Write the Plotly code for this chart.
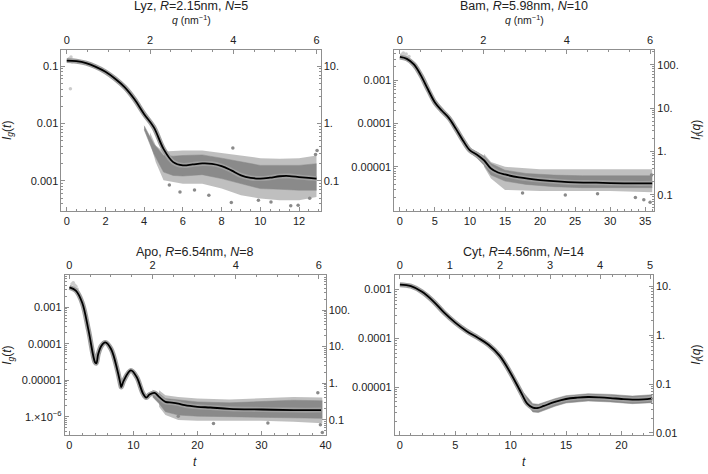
import plotly.graph_objects as go

W, H = 708, 474

# ---------------- DATA ----------------
# Lyz
lyz_t = [0, 0.5, 1, 1.5, 2, 2.5, 3, 3.5, 4, 4.5, 5, 5.5, 6, 6.5, 7, 7.5, 8, 8.5, 9, 9.5, 10, 10.5, 11, 11.5, 12, 12.5, 12.9]
lyz_fit = [0.1253, 0.1220, 0.1127, 0.0974, 0.0798, 0.0604, 0.0428, 0.0265, 0.0146, 0.00859, 0.00362, 0.00213,
           0.00187, 0.00194, 0.00202, 0.00199, 0.00182, 0.00153, 0.00125, 0.00113, 0.00110, 0.00114, 0.00121,
           0.00122, 0.00117, 0.00113, 0.00110]
lyz_in_t = [4.0, 4.5, 5.0, 5.5, 6, 7, 8, 9, 10, 11, 12, 12.9]
lyz_in_hi = [9.18e-3, 4.42e-3, 2.78e-3, 2.71e-3, 2.78e-3, 2.85e-3, 2.50e-3, 2.13e-3, 1.87e-3, 1.87e-3, 1.87e-3, 2.00e-3]
lyz_in_lo = [7.82e-3, 2.97e-3, 1.43e-3, 1.25e-3, 1.22e-3, 1.29e-3, 1.10e-3, 9.00e-4, 7.37e-4, 7.18e-4, 6.90e-4, 6.90e-4]
lyz_out_t = [4.3, 4.6, 5, 6, 7, 8, 9, 10, 11, 12, 12.9]
lyz_out_hi = [7.03e-3, 4.14e-3, 3.26e-3, 3.39e-3, 3.39e-3, 3.09e-3, 2.78e-3, 2.50e-3, 2.43e-3, 2.50e-3, 2.78e-3]
lyz_out_lo = [4.72e-3, 2.13e-3, 1.03e-3, 9.00e-4, 9.00e-4, 7.37e-4, 5.65e-4, 4.95e-4, 4.63e-4, 4.63e-4, 5.29e-4]
lyz_pts_t = [8.58, 12.93, 12.85, 5.85, 8.5, 10.55, 11.57, 11.95, 12.55, 7.34, 9.9, 6.6, 5.3]
lyz_pts_v = [3.77e-3, 3.39e-3, 2.9e-3, 6.45e-4, 4.22e-4, 4.3e-4, 3.70e-4, 3.8e-4, 5.0e-4, 5.65e-4, 4.6e-4, 7.0e-4, 8.5e-4]
lyz_light_t = [0.12, 0.19, 0.22, 0.28, 0.19]
lyz_light_v = [0.135, 0.125, 0.145, 0.118, 0.0406]

# Bam
bam_t = [0, 1, 2, 3, 4, 5, 6, 7, 8, 9, 10, 11, 12, 13, 14, 15, 17, 20, 23, 25, 28, 30, 33, 36]
bam_fit = [3.40e-3, 3.07e-3, 2.28e-3, 1.28e-3, 6.12e-4, 3.04e-4, 1.96e-4, 1.33e-4, 7.50e-5, 4.06e-5, 2.40e-5,
           1.91e-5, 1.42e-5, 9.16e-6, 7.43e-6, 6.68e-6, 5.71e-6, 4.97e-6, 4.55e-6, 4.39e-6, 4.32e-6, 4.24e-6,
           4.17e-6, 4.17e-6]
bam_in_t = [10, 11, 12, 13, 15, 18, 22, 26, 30, 36]
bam_in_hi = [2.71e-5, 2.20e-5, 1.78e-5, 1.19e-5, 8.39e-6, 7.05e-6, 6.46e-6, 6.24e-6, 6.24e-6, 6.24e-6]
bam_in_lo = [2.12e-5, 1.60e-5, 1.09e-5, 6.46e-6, 4.71e-6, 3.95e-6, 3.50e-6, 3.32e-6, 3.32e-6, 3.32e-6]
bam_out_t = [12, 13, 15, 20, 25, 30, 36]
bam_out_hi = [2.01e-5, 1.30e-5, 1.00e-5, 8.85e-6, 8.85e-6, 8.85e-6, 8.85e-6]
bam_out_lo = [1.00e-5, 5.42e-6, 2.94e-6, 2.79e-6, 2.79e-6, 2.79e-6, 2.60e-6]
bam_pts_t = [23.6, 34.8, 35.7, 33.6, 17.5, 28.2, 35.9]
bam_pts_v = [2.26e-6, 1.74e-6, 1.54e-6, 1.96e-6, 2.5e-6, 2.4e-6, 6.5e-6]
bam_light_t = [0.3, 0.5, 0.7, 0.9, 1.1, 1.3]
bam_light_v = [3.9e-3, 4.2e-3, 3.6e-3, 4.0e-3, 3.3e-3, 3.5e-3]

# Apo
apo_t = [0, 1, 2, 3, 4, 4.2, 4.5, 5, 5.6, 6.5, 7.5, 8, 8.1, 8.5, 9.6, 10.5, 11.5, 12, 12.5, 13.3, 14, 15, 16, 17,
         18, 20, 22, 25, 30, 35, 39.3]
apo_fit = [3.48e-3, 2.83e-3, 1.31e-3, 2.24e-4, 3.10e-5, 2.91e-5, 5.21e-5, 8.77e-5, 1.08e-4, 7.13e-5, 1.85e-5,
           7.5e-6, 6.52e-6, 9.89e-6, 1.85e-5, 1.22e-5, 4.30e-6, 3.35e-6, 4.04e-6, 4.48e-6, 3.49e-6, 2.55e-6,
           2.45e-6, 2.30e-6, 2.07e-6, 1.87e-6, 1.79e-6, 1.65e-6, 1.58e-6, 1.52e-6, 1.52e-6]
apo_in_t = [13, 14, 15, 17, 20, 25, 30, 35, 39.5]
apo_in_hi = [5.29e-6, 4.30e-6, 3.15e-6, 2.84e-6, 2.55e-6, 2.40e-6, 2.55e-6, 2.84e-6, 2.72e-6]
apo_in_lo = [3.49e-6, 2.30e-6, 1.37e-6, 1.11e-6, 1.04e-6, 1.00e-6, 1.00e-6, 9.62e-7, 9.03e-7]
apo_out_t = [14, 15, 17, 20, 25, 30, 35, 39.5]
apo_out_hi = [5.29e-6, 3.87e-6, 3.49e-6, 3.15e-6, 2.96e-6, 3.21e-6, 3.49e-6, 3.35e-6]
apo_out_lo = [1.87e-6, 1.11e-6, 8.14e-7, 7.81e-7, 7.81e-7, 7.81e-7, 7.33e-7, 6.61e-7]
apo_pts_t = [17.0, 39.5, 39.2, 38.8, 22.5, 31.0]
apo_pts_v = [1.04e-6, 3.69e-7, 6.0e-7, 4.5e-6, 6.5e-7, 6.8e-7]
apo_light_t = [0.4, 0.6, 0.8, 1.0, 1.2]
apo_light_v = [4.3e-3, 4.6e-3, 4.0e-3, 3.7e-3, 3.1e-3]

# Cyt
cyt_t = [0, 1, 2, 3, 4, 5, 6, 7, 8, 9, 10, 11, 11.5, 12, 12.5, 13, 14, 15, 16, 17, 18, 19, 20, 21, 22, 22.8]
cyt_fit = [1.26e-3, 1.17e-3, 8.97e-4, 5.80e-4, 3.35e-4, 2.10e-4, 1.42e-4, 1.04e-4, 7.38e-5, 4.41e-5, 1.93e-5,
           7.31e-6, 4.58e-6, 3.80e-6, 3.74e-6, 4.11e-6, 4.96e-6, 5.70e-6, 6.07e-6, 6.26e-6, 6.17e-6, 5.97e-6,
           5.70e-6, 5.52e-6, 5.61e-6, 5.88e-6]
cyt_in_t = [9, 10, 11, 12, 12.5, 13, 14, 15, 17, 19, 21, 22.8]
cyt_in_hi = [4.92e-5, 2.18e-5, 8.55e-6, 4.58e-6, 4.44e-6, 4.88e-6, 5.79e-6, 6.67e-6, 7.31e-6, 7.09e-6, 6.56e-6, 6.98e-6]
cyt_in_lo = [3.95e-5, 1.65e-5, 6.07e-6, 3.10e-6, 3.01e-6, 3.35e-6, 4.05e-6, 4.73e-6, 5.19e-6, 4.96e-6, 4.58e-6, 4.80e-6]

# Titles / tick labels
titles = ["Lyz, <i>R</i>=2.15nm, <i>N</i>=5", "Bam, <i>R</i>=5.98nm, <i>N</i>=10",
          "Apo, <i>R</i>=6.54nm, <i>N</i>=8", "Cyt, <i>R</i>=4.56nm, <i>N</i>=14"]
t_ticks = [[0, 2, 4, 6, 8, 10, 12], [0, 5, 10, 15, 20, 25, 30, 35], [0, 10, 20, 30, 40], [0, 5, 10, 15, 20]]
q_ticks = [[0, 2, 4, 6], [0, 2, 4, 6], [0, 2, 4, 6], [0, 1, 2, 3, 4, 5]]
left_vals = [[0.1, 0.01, 0.001], [1e-3, 1e-4, 1e-5], [1e-3, 1e-4, 1e-5, 1e-6], [1e-3, 1e-4, 1e-5]]
left_text = [["0.1", "0.01", "0.001"], ["0.001", "0.0001", "0.00001"],
             ["0.001", "0.0001", "0.00001", "1.×10<sup>−6</sup>"], ["0.001", "0.0001", "0.00001"]]
right_vals = [[10, 1, 0.1], [100, 10, 1, 0.1], [100, 10, 1, 0.1], [10, 1, 0.1, 0.01]]
right_text = [["10.", "1.", "0.1"], ["100.", "10.", "1.", "0.1"], ["100.", "10.", "1.", "0.1"],
              ["10.", "1.", "0.1", "0.01"]]

# ---------------- LAYOUT GEOMETRY (pixels) ----------------
frames = [(62, 323.3, 50, 212.3), (397.7, 659.7, 50, 212.3), (65.3, 328.3, 277, 438.7), (398.3, 658.3, 277, 438.7)]
t_ranges = [(-0.271, 13.11), (-0.79, 36.27), (-0.73, 40.0), (-0.448, 22.83)]
q_ranges = [(-0.126, 6.095), (-0.133, 6.095), (-0.112, 6.159), (-0.099, 5.052)]
yl_ranges = [(-3.514, -0.711), (-6.005, -2.299), (-6.499, -2.113), (-5.982, -2.695)]
yr_ranges = [(-1.514, 1.289), (-1.359, 2.347), (-1.419, 2.967), (-2.042, 1.245)]
t_minor = [0.5, 1, 2, 1]
q_minor = [0.5, 0.5, 0.5, 0.25]

FRAME = "#8f8f8f"
TXT = "#222222"
FONT = "Liberation Sans"
BAND = "#8a8a8a"

fig = go.Figure()

panels = [
    dict(t=lyz_t, f=lyz_fit, it=lyz_in_t, ih=lyz_in_hi, il=lyz_in_lo, ot=lyz_out_t, oh=lyz_out_hi, ol=lyz_out_lo,
         pt=lyz_pts_t, pv=lyz_pts_v, lt=lyz_light_t, lv=lyz_light_v),
    dict(t=bam_t, f=bam_fit, it=bam_in_t, ih=bam_in_hi, il=bam_in_lo, ot=bam_out_t, oh=bam_out_hi, ol=bam_out_lo,
         pt=bam_pts_t, pv=bam_pts_v, lt=bam_light_t, lv=bam_light_v),
    dict(t=apo_t, f=apo_fit, it=apo_in_t, ih=apo_in_hi, il=apo_in_lo, ot=apo_out_t, oh=apo_out_hi, ol=apo_out_lo,
         pt=apo_pts_t, pv=apo_pts_v, lt=apo_light_t, lv=apo_light_v),
    dict(t=cyt_t, f=cyt_fit, it=cyt_in_t, ih=cyt_in_hi, il=cyt_in_lo, ot=None, oh=None, ol=None,
         pt=[], pv=[], lt=[], lv=[]),
]

tickfont = dict(family=FONT, size=11, color=TXT)
layout = {}
annotations = []

for k, p in enumerate(panels):
    xb, xt = 2 * k + 1, 2 * k + 2
    xa = "x" if xb == 1 else f"x{xb}"
    ya = "y" if xb == 1 else f"y{xb}"
    xa2, ya2 = f"x{xt}", f"y{xt}"
    common = dict(xaxis=xa, yaxis=ya, showlegend=False, hoverinfo="skip")

    if p["ot"] is not None:
        fig.add_trace(go.Scatter(x=p["ot"], y=p["ol"], mode="lines", line=dict(width=0, color=BAND), **common))
        fig.add_trace(go.Scatter(x=p["ot"], y=p["oh"], mode="lines", line=dict(width=0, color=BAND),
                                 fill="tonexty", fillcolor="rgba(138,138,138,0.55)", **common))
    fig.add_trace(go.Scatter(x=p["it"], y=p["il"], mode="lines", line=dict(width=0.5, color=BAND), **common))
    fig.add_trace(go.Scatter(x=p["it"], y=p["ih"], mode="lines", line=dict(width=0.5, color=BAND),
                             fill="tonexty", fillcolor=BAND, **common))
    if p["pt"]:
        fig.add_trace(go.Scatter(x=p["pt"], y=p["pv"], mode="markers",
                                 marker=dict(size=3.5, color=BAND), **common))
    if p["lt"]:
        fig.add_trace(go.Scatter(x=p["lt"], y=p["lv"], mode="markers",
                                 marker=dict(size=3.5, color="#cccccc"), **common))
    fig.add_trace(go.Scatter(x=p["t"], y=p["f"], mode="lines", line=dict(width=5, color="#a0a0a0", shape="spline"),
                             **common))
    fig.add_trace(go.Scatter(x=p["t"], y=p["f"], mode="lines", line=dict(width=1.8, color="black", shape="spline"),
                             **common))
    fig.add_trace(go.Scatter(x=[None], y=[None], xaxis=xa2, yaxis=ya2, showlegend=False, hoverinfo="skip"))

    l, r, tp, bt = frames[k]
    xdom = [l / W, r / W]
    ydom = [1 - bt / H, 1 - tp / H]
    axcommon = dict(showline=True, linecolor=FRAME, linewidth=1, ticks="inside", ticklen=4, tickcolor=FRAME,
                    showgrid=False, zeroline=False, tickfont=tickfont, mirror=False)
    layout["xaxis" if xb == 1 else f"xaxis{xb}"] = dict(
        domain=xdom, anchor=ya, range=list(t_ranges[k]), tickvals=t_ticks[k],
        ticktext=[str(v) for v in t_ticks[k]],
        minor=dict(ticks="inside", ticklen=2, tickcolor=FRAME, dtick=t_minor[k]), **axcommon)
    layout[f"xaxis{xt}"] = dict(
        overlaying=xa, side="top", anchor=ya, range=list(q_ranges[k]), tickvals=q_ticks[k],
        ticktext=[str(v) for v in q_ticks[k]],
        minor=dict(ticks="inside", ticklen=2, tickcolor=FRAME, dtick=q_minor[k]), **axcommon)
    layout["yaxis" if xb == 1 else f"yaxis{xb}"] = dict(
        domain=ydom, anchor=xa, type="log", range=list(yl_ranges[k]), tickvals=left_vals[k],
        ticktext=left_text[k], minor=dict(ticks="inside", ticklen=2, tickcolor=FRAME, dtick="D1"), **axcommon)
    layout[f"yaxis{xt}"] = dict(
        overlaying=ya, side="right", anchor=xa, type="log", range=list(yr_ranges[k]), tickvals=right_vals[k],
        ticktext=right_text[k], minor=dict(ticks="inside", ticklen=2, tickcolor=FRAME, dtick="D1"), **axcommon)

    cx = (l + r) / 2
    ty = 6 if k < 2 else 254
    annotations.append(dict(text=titles[k], x=cx / W, y=1 - ty / H, xref="paper", yref="paper",
                            showarrow=False, font=dict(family=FONT, size=12.5, color=TXT),
                            xanchor="center", yanchor="middle"))
    if k < 2:
        annotations.append(dict(text="<i>q</i> (nm<sup>−1</sup>)", x=cx / W, y=1 - 20 / H, xref="paper",
                                yref="paper", showarrow=False, font=dict(family=FONT, size=10.5, color=TXT),
                                xanchor="center", yanchor="middle"))
    else:
        annotations.append(dict(text="<i>t</i>", x=cx / W, y=1 - 466 / H, xref="paper", yref="paper",
                                showarrow=False, font=dict(family=FONT, size=12, color=TXT),
                                xanchor="center", yanchor="middle"))
    cy = (tp + bt) / 2
    if k % 2 == 0:
        annotations.append(dict(text="<i>I</i><sub><i>g</i></sub>(<i>t</i>)", x=8 / W, y=1 - cy / H,
                                xref="paper", yref="paper", showarrow=False, textangle=-90,
                                font=dict(family=FONT, size=12, color=TXT), xanchor="center", yanchor="middle"))
    else:
        annotations.append(dict(text="<i>I</i><sub><i>f</i></sub>(<i>q</i>)", x=703 / W, y=1 - cy / H,
                                xref="paper", yref="paper", showarrow=False, textangle=-90,
                                font=dict(family=FONT, size=12, color=TXT), xanchor="center", yanchor="middle"))

fig.update_layout(width=W, height=H, margin=dict(l=0, r=0, t=0, b=0), paper_bgcolor="white",
                  plot_bgcolor="white", showlegend=False, annotations=annotations, **layout)
fig.write_html("out.html")
